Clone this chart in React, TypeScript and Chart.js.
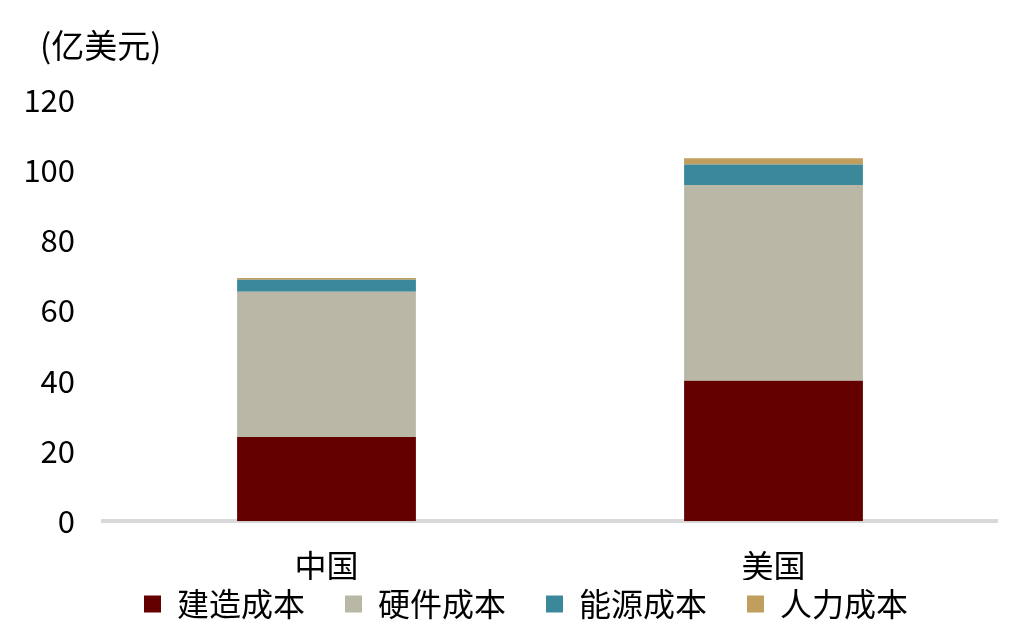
import React, { useEffect, useRef } from "react";
import { Chart, registerables } from "chart.js";

Chart.register(...registerables);

const categories = ["中国", "美国"];
const seriesNames = ["建造成本", "硬件成本", "能源成本", "人力成本"];
const construction = [24, 40];
const hardware = [41.4, 55.8];
const energy = [3.4, 5.8];
const labor = [0.5, 1.8];
const colors = ["#640000", "#B9B8A6", "#3C889B", "#C09F5E"];
const yTicks = [0, 20, 40, 60, 80, 100, 120];
const unitLabel = "(亿美元)";

const FONT = '"Noto Sans CJK SC", "Noto Sans", sans-serif';
const X_PAD = 30;
const X_LH = 0.9;
const X_SIZE = 32;

const unitPlugin = {
  id: "unitLabel",
  afterDraw(chart: any) {
    const ctx = chart.ctx;
    ctx.save();
    ctx.fillStyle = "#000";
    ctx.font = `33px ${FONT}`;
    ctx.textAlign = "left";
    ctx.textBaseline = "middle";
    ctx.fillText(unitLabel, chart.chartArea.left - 63, 45);
    ctx.restore();
  },
};

export default function App() {
  const ref = useRef<HTMLCanvasElement | null>(null);
  useEffect(() => {
    if (!ref.current) return;
    const values = [construction, hardware, energy, labor];
    const chart = new Chart(ref.current, {
      type: "bar",
      data: {
        labels: categories,
        datasets: seriesNames.map((n, i) => ({
          label: n,
          data: values[i],
          backgroundColor: colors[i],
          borderWidth: 0,
          categoryPercentage: 1,
          barPercentage: 0.4,
        })),
      },
      plugins: [unitPlugin],
      options: {
        animation: false,
        responsive: false,
        maintainAspectRatio: false,
        layout: { padding: { left: 0, right: 28, top: 100, bottom: 10 } },
        plugins: {
          tooltip: { enabled: false },
          title: { display: false },
          legend: {
            position: "bottom",
            fullSize: false,
            labels: {
              color: "#000",
              font: { family: FONT, size: 32 },
              boxWidth: 17,
              boxHeight: 17,
              padding: 8,
              generateLabels: (c: any) => {
                const items = Chart.defaults.plugins.legend.labels.generateLabels(c);
                return items.map((l: any, i: number) => ({
                  ...l,
                  text: l.text + (i === items.length - 1 ? "\u3000\u2002" : "\u3000"),
                }));
              },
            },
          },
        },
        scales: {
          x: {
            stacked: true,
            afterFit: (s: any) => {
              s.height = X_PAD + X_SIZE * X_LH;
            },
            grid: { display: false, drawTicks: false },
            border: { display: true, color: "#D9D9D9", width: 4 },
            ticks: {
              color: "#000",
              font: { family: FONT, size: X_SIZE, lineHeight: X_LH },
              padding: X_PAD,
            },
          },
          y: {
            stacked: true,
            min: 0,
            max: 120,
            afterFit: (s: any) => {
              s.width = 103;
            },
            afterBuildTicks: (s: any) => {
              s.ticks = yTicks.map((v) => ({ value: v }));
            },
            grid: { display: false, drawTicks: false },
            border: { display: false },
            ticks: {
              color: "#000",
              font: { family: FONT, size: 31 },
              padding: 28,
            },
          },
        },
      },
    });
    return () => chart.destroy();
  }, []);
  return (
    <div style={{ position: "fixed", left: 0, top: 0, width: 1025, height: 640, background: "#fff" }}>
      <canvas ref={ref} width={1025} height={640} style={{ width: 1025, height: 640 }} />
    </div>
  );
}
